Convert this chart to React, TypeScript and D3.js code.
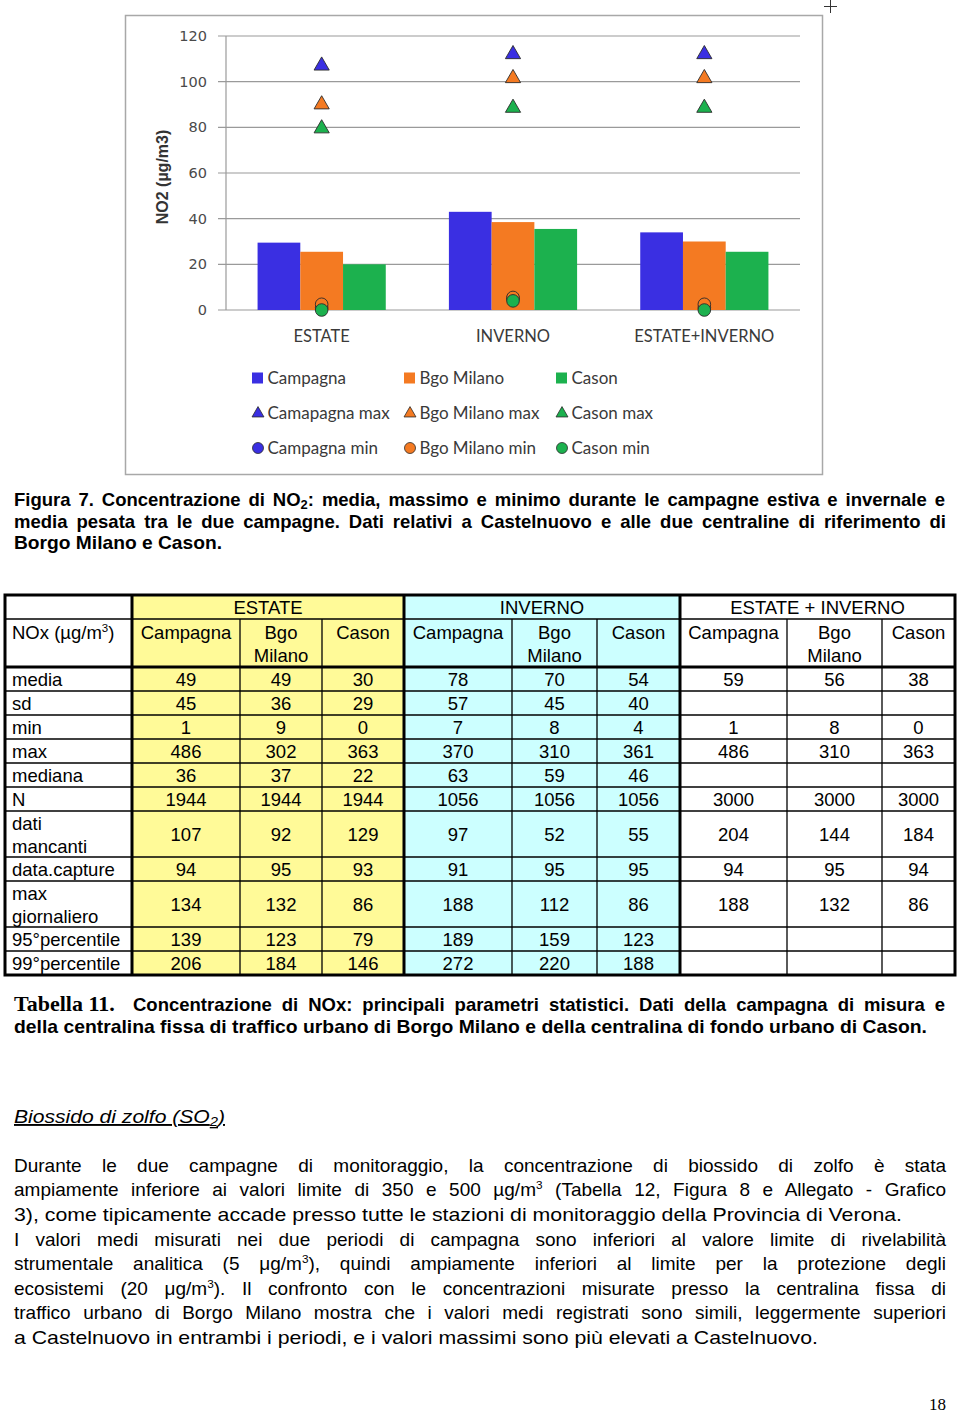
import React, { useRef, useLayoutEffect } from 'react';
import * as d3 from 'd3';

// ---------- chart data (NO2, µg/m3) ----------
const categories = ['ESTATE', 'INVERNO', 'ESTATE+INVERNO'];
const seriesNames = ['Campagna', 'Bgo Milano', 'Cason'];
const meanCampagna = [29.5, 43, 34];
const meanBgoMilano = [25.5, 38.5, 30];
const meanCason = [20, 35.5, 25.5];
const maxCampagna = [107, 112, 112];
const maxBgoMilano = [90, 101.5, 101.5];
const maxCason = [79.5, 88.5, 88.5];
const minCampagna = [1, 5, 1];
const minBgoMilano = [2.5, 5.5, 2.5];
const minCason = [0, 4, 0];
const yTicks = [0, 20, 40, 60, 80, 100, 120];
const legendBars = ['Campagna', 'Bgo Milano', 'Cason'];
const legendMax = ['Camapagna max', 'Bgo Milano max', 'Cason max'];
const legendMin = ['Campagna min', 'Bgo Milano min', 'Cason min'];

// ---------- table data (NOx, µg/m3) ----------
const groupNames = ['ESTATE', 'INVERNO', 'ESTATE + INVERNO'];
const stationHeaders = [['Campagna'], ['Bgo', 'Milano'], ['Cason']];
const rowLabels = [['media'], ['sd'], ['min'], ['max'], ['mediana'], ['N'], ['dati', 'mancanti'], ['data.capture'], ['max', 'giornaliero'], ['95°percentile'], ['99°percentile']];
const estateCampagna = [49, 45, 1, 486, 36, 1944, 107, 94, 134, 139, 206];
const estateBgoMilano = [49, 36, 9, 302, 37, 1944, 92, 95, 132, 123, 184];
const estateCason = [30, 29, 0, 363, 22, 1944, 129, 93, 86, 79, 146];
const invernoCampagna = [78, 57, 7, 370, 63, 1056, 97, 91, 188, 189, 272];
const invernoBgoMilano = [70, 45, 8, 310, 59, 1056, 52, 95, 112, 159, 220];
const invernoCason = [54, 40, 4, 361, 46, 1056, 55, 95, 86, 123, 188];
const totaleCampagna = [59, null, 1, 486, null, 3000, 204, 94, 188, null, null];
const totaleBgoMilano = [56, null, 8, 310, null, 3000, 144, 95, 132, null, null];
const totaleCason = [38, null, 0, 363, null, 3000, 184, 94, 86, null, null];

const COLORS = ['#3A2FE2', '#F47A22', '#1CB14E'];
const SANS = "'Liberation Sans', Arial, sans-serif";
const CHART_FONT = "Lato, 'Open Sans', sans-serif";

function JText(props: any) {
  const { x, y, width, justify = false, children, ...rest } = props;
  const ref = useRef<SVGTextElement>(null);
  useLayoutEffect(() => {
    const el = ref.current;
    if (!el) return;
    el.removeAttribute('textLength');
    el.removeAttribute('lengthAdjust');
    el.style.wordSpacing = '0px';
    const w = el.getComputedTextLength();
    const spaces = (el.textContent || '').split(' ').length - 1;
    if (justify && w < width && spaces > 0) {
      el.style.wordSpacing = `${(width - w) / spaces}px`;
    } else {
      el.setAttribute('textLength', String(width));
      el.setAttribute('lengthAdjust', 'spacingAndGlyphs');
    }
  }, [width, justify]);
  return (
    <text ref={ref} x={x} y={y} {...rest}>
      {children}
    </text>
  );
}

// superscript followed by the rest of the line, back on the baseline
const SupThen = ({ s, rest }: { s: string; rest: string }) => (
  <>
    <tspan dy={-7} fontSize="0.62em">{s}</tspan>
    <tspan dy={7}>{rest}</tspan>
  </>
);
const SubThen = ({ s, rest }: { s: string; rest: string }) => (
  <>
    <tspan dy={3} fontSize="0.7em">{s}</tspan>
    <tspan dy={-3}>{rest}</tspan>
  </>
);

function Chart() {
  const means = [meanCampagna, meanBgoMilano, meanCason];
  const maxs = [maxCampagna, maxBgoMilano, maxCason];
  const mins = [minCampagna, minBgoMilano, minCason];
  const x = d3.scaleBand<string>().domain(categories).range([226, 800]).paddingInner(0.33).paddingOuter(0.165);
  const xs = d3.scaleBand<string>().domain(seriesNames).range([0, x.bandwidth()]);
  const y = d3.scaleLinear().domain([0, 120]).range([310, 36]);
  const tri = d3.symbol().type(d3.symbolTriangle).size(100)();
  const circ = d3.symbol().type(d3.symbolCircle).size(125)();
  const triL = d3.symbol().type(d3.symbolTriangle).size(62)();
  const circL = d3.symbol().type(d3.symbolCircle).size(95)();
  const legendX = [252, 404, 556];
  const legendY = [378, 413, 448];
  const cx = (c: string) => (x(c) as number) + x.bandwidth() / 2;
  return (
    <g>
      <rect x={125.5} y={15.5} width={697} height={459} fill="#fff" stroke="#A8A8A8" strokeWidth={1.5} />
      <path d="M824,6.5 H837 M830.5,0 V13" stroke="#333" strokeWidth={1} />
      {yTicks.map((t) => (
        <g key={t}>
          <line x1={218} x2={800} y1={y(t)} y2={y(t)} stroke="#9A9A9A" strokeWidth={1.2} />
          <text x={207} y={y(t) + 5} textAnchor="end" fontFamily="'DejaVu Sans', Verdana, sans-serif" fontSize={14.5} fill="#4a4a4a">
            {t}
          </text>
        </g>
      ))}
      <line x1={226} x2={226} y1={y(120)} y2={y(0)} stroke="#9A9A9A" strokeWidth={1.2} />
      <text transform="translate(168,177) rotate(-90)" textAnchor="middle" fontFamily={SANS} fontWeight="bold" fontSize={16} fill="#333">
        NO2 (µg/m3)
      </text>
      {seriesNames.map((s, si) =>
        categories.map((c, ci) => (
          <rect key={s + c} x={(x(c) as number) + (xs(s) as number)} width={xs.bandwidth()} y={y(means[si][ci])} height={y(0) - y(means[si][ci])} fill={COLORS[si]} />
        ))
      )}
      {seriesNames.map((s, si) =>
        categories.map((c, ci) => (
          <path key={'mx' + s + c} d={tri} transform={`translate(${cx(c)},${y(maxs[si][ci])})`} fill={COLORS[si]} stroke="#2b2b2b" strokeWidth={0.9} />
        ))
      )}
      {seriesNames.map((s, si) =>
        categories.map((c, ci) => (
          <path key={'mn' + s + c} d={circ} transform={`translate(${cx(c)},${y(mins[si][ci])})`} fill={COLORS[si]} stroke="#2b2b2b" strokeWidth={0.9} />
        ))
      )}
      {categories.map((c) => (
        <text key={c} x={cx(c)} y={342} textAnchor="middle" fontFamily={CHART_FONT} fontSize={16.5} fill="#3a3a3a">
          {c}
        </text>
      ))}
      {legendBars.map((l, i) => (
        <g key={l}>
          <rect x={legendX[i]} y={legendY[0] - 5.5} width={11} height={11} fill={COLORS[i]} />
          <text x={legendX[i] + 15.5} y={legendY[0] + 6} fontFamily={CHART_FONT} fontSize={17} fill="#3a3a3a">{l}</text>
        </g>
      ))}
      {legendMax.map((l, i) => (
        <g key={l}>
          <path d={triL} transform={`translate(${legendX[i] + 6},${legendY[1] + 0.5})`} fill={COLORS[i]} stroke="#2b2b2b" strokeWidth={0.8} />
          <text x={legendX[i] + 15.5} y={legendY[1] + 6} fontFamily={CHART_FONT} fontSize={17} fill="#3a3a3a">{l}</text>
        </g>
      ))}
      {legendMin.map((l, i) => (
        <g key={l}>
          <path d={circL} transform={`translate(${legendX[i] + 6},${legendY[2]})`} fill={COLORS[i]} stroke="#2b2b2b" strokeWidth={0.8} />
          <text x={legendX[i] + 15.5} y={legendY[2] + 6} fontFamily={CHART_FONT} fontSize={17} fill="#3a3a3a">{l}</text>
        </g>
      ))}
    </g>
  );
}

function Table() {
  const columns = [estateCampagna, estateBgoMilano, estateCason, invernoCampagna, invernoBgoMilano, invernoCason, totaleCampagna, totaleBgoMilano, totaleCason];
  const colEdges = [5, 132, 240, 322, 404, 512, 597, 680, 787, 882, 955];
  const top = 595;
  const h1 = 619;
  const h2 = 667;
  const rowTops: number[] = [];
  let acc = h2;
  rowLabels.forEach((r) => {
    rowTops.push(acc);
    acc += r.length === 2 ? 46 : 24;
  });
  const bottom = acc;
  const fs = 18.5;
  const groupFills = ['#FFFA98', '#CCFFFF', '#FFFFFF'];
  const thickX = [132, 404, 680];
  return (
    <g fontFamily={SANS} fontSize={fs} fill="#000">
      {groupFills.map((f, g) => (
        <rect key={g} x={colEdges[1 + g * 3]} y={top} width={colEdges[4 + g * 3] - colEdges[1 + g * 3]} height={bottom - top} fill={f} />
      ))}
      {[h1, ...rowTops.slice(1)].map((yy) => (
        <line key={yy} x1={colEdges[0]} x2={colEdges[10]} y1={yy} y2={yy} stroke="#000" strokeWidth={1.3} />
      ))}
      {colEdges.slice(1, 10).filter((c) => !thickX.includes(c)).map((c) => (
        <line key={c} x1={c} x2={c} y1={h1} y2={bottom} stroke="#000" strokeWidth={1.3} />
      ))}
      <line x1={colEdges[0]} x2={colEdges[10]} y1={h2} y2={h2} stroke="#000" strokeWidth={3} />
      {thickX.map((c) => (
        <line key={'t' + c} x1={c} x2={c} y1={top} y2={bottom} stroke="#000" strokeWidth={3} />
      ))}
      <rect x={colEdges[0]} y={top} width={colEdges[10] - colEdges[0]} height={bottom - top} fill="none" stroke="#000" strokeWidth={3} />
      {groupNames.map((g, gi) => (
        <text key={g} x={(colEdges[1 + gi * 3] + colEdges[4 + gi * 3]) / 2} y={614} textAnchor="middle">{g}</text>
      ))}
      {columns.map((_, ci) =>
        stationHeaders[ci % 3].map((line, li) => (
          <text key={ci + '-' + li} x={(colEdges[ci + 1] + colEdges[ci + 2]) / 2} y={638.5 + li * 23} textAnchor="middle">{line}</text>
        ))
      )}
      <text x={12} y={638.5}>
        NOx (µg/m<SupThen s="3" rest=")" />
      </text>
      {rowLabels.map((r, ri) => {
        const t = rowTops[ri];
        const hh = r.length === 2 ? 46 : 24;
        return (
          <g key={ri}>
            {r.map((line, li) => (
              <text key={li} x={12} y={t + 18.5 + li * 23}>{line}</text>
            ))}
            {columns.map((col, ci) =>
              col[ri] === null ? null : (
                <text key={ci} x={(colEdges[ci + 1] + colEdges[ci + 2]) / 2} y={t + hh / 2 + 6.5} textAnchor="middle">{col[ri]}</text>
              )
            )}
          </g>
        );
      })}
    </g>
  );
}

function Texts() {
  const L = 14;
  const para = { fontFamily: SANS, fontSize: 19, fill: '#000' };
  const cap = { fontFamily: SANS, fontSize: 18.5, fontWeight: 'bold', fill: '#000' };
  return (
    <g>
      <JText x={L} y={506} width={931} justify {...cap}>
        Figura 7. Concentrazione di NO<SubThen s="2" rest=": media, massimo e minimo durante le campagne estiva e invernale e" />
      </JText>
      <JText x={L} y={528} width={932} justify {...cap}>
        media pesata tra le due campagne. Dati relativi a Castelnuovo e alle due centraline di riferimento di
      </JText>
      <JText x={L} y={549} width={208} {...cap}>
        Borgo Milano e Cason.
      </JText>

      <text x={L} y={1011} fontFamily="'Liberation Serif', 'Times New Roman', serif" fontWeight="bold" fontSize={22}>
        Tabella 11.
      </text>
      <JText x={133} y={1011} width={812} justify {...cap}>
        Concentrazione di NOx: principali parametri statistici. Dati della campagna di misura e
      </JText>
      <JText x={L} y={1033} width={913} {...cap}>
        della centralina fissa di traffico urbano di Borgo Milano e della centralina di fondo urbano di Cason.
      </JText>

      <JText x={L} y={1123} width={211} fontStyle="italic" textDecoration="underline" {...para}>
        Biossido di zolfo (SO<SubThen s="2" rest=")" />
      </JText>

      <JText x={L} y={1172} width={932} justify {...para}>
        Durante le due campagne di monitoraggio, la concentrazione di biossido di zolfo è stata
      </JText>
      <JText x={L} y={1196} width={932} justify {...para}>
        ampiamente inferiore ai valori limite di 350 e 500 µg/m<SupThen s="3" rest=" (Tabella 12, Figura 8 e Allegato - Grafico" />
      </JText>
      <JText x={L} y={1221} width={888} {...para}>
        3), come tipicamente accade presso tutte le stazioni di monitoraggio della Provincia di Verona.
      </JText>
      <JText x={L} y={1246} width={932} justify {...para}>
        I valori medi misurati nei due periodi di campagna sono inferiori al valore limite di rivelabilità
      </JText>
      <JText x={L} y={1270} width={932} justify {...para}>
        strumentale analitica (5 μg/m<SupThen s="3" rest="), quindi ampiamente inferiori al limite per la protezione degli" />
      </JText>
      <JText x={L} y={1295} width={932} justify {...para}>
        ecosistemi (20 μg/m<SupThen s="3" rest="). Il confronto con le concentrazioni misurate presso la centralina fissa di" />
      </JText>
      <JText x={L} y={1319} width={932} justify {...para}>
        traffico urbano di Borgo Milano mostra che i valori medi registrati sono simili, leggermente superiori
      </JText>
      <JText x={L} y={1344} width={804} {...para}>
        a Castelnuovo in entrambi i periodi, e i valori massimi sono più elevati a Castelnuovo.
      </JText>

      <text x={946} y={1410} textAnchor="end" fontFamily="'Liberation Serif', 'Times New Roman', serif" fontSize={17}>
        18
      </text>
    </g>
  );
}

export default function App() {
  return (
    <svg width={960} height={1414} viewBox="0 0 960 1414" style={{ position: 'absolute', left: 0, top: 0, background: '#fff' }}>
      <rect width={960} height={1414} fill="#fff" />
      <Chart />
      <Table />
      <Texts />
    </svg>
  );
}
